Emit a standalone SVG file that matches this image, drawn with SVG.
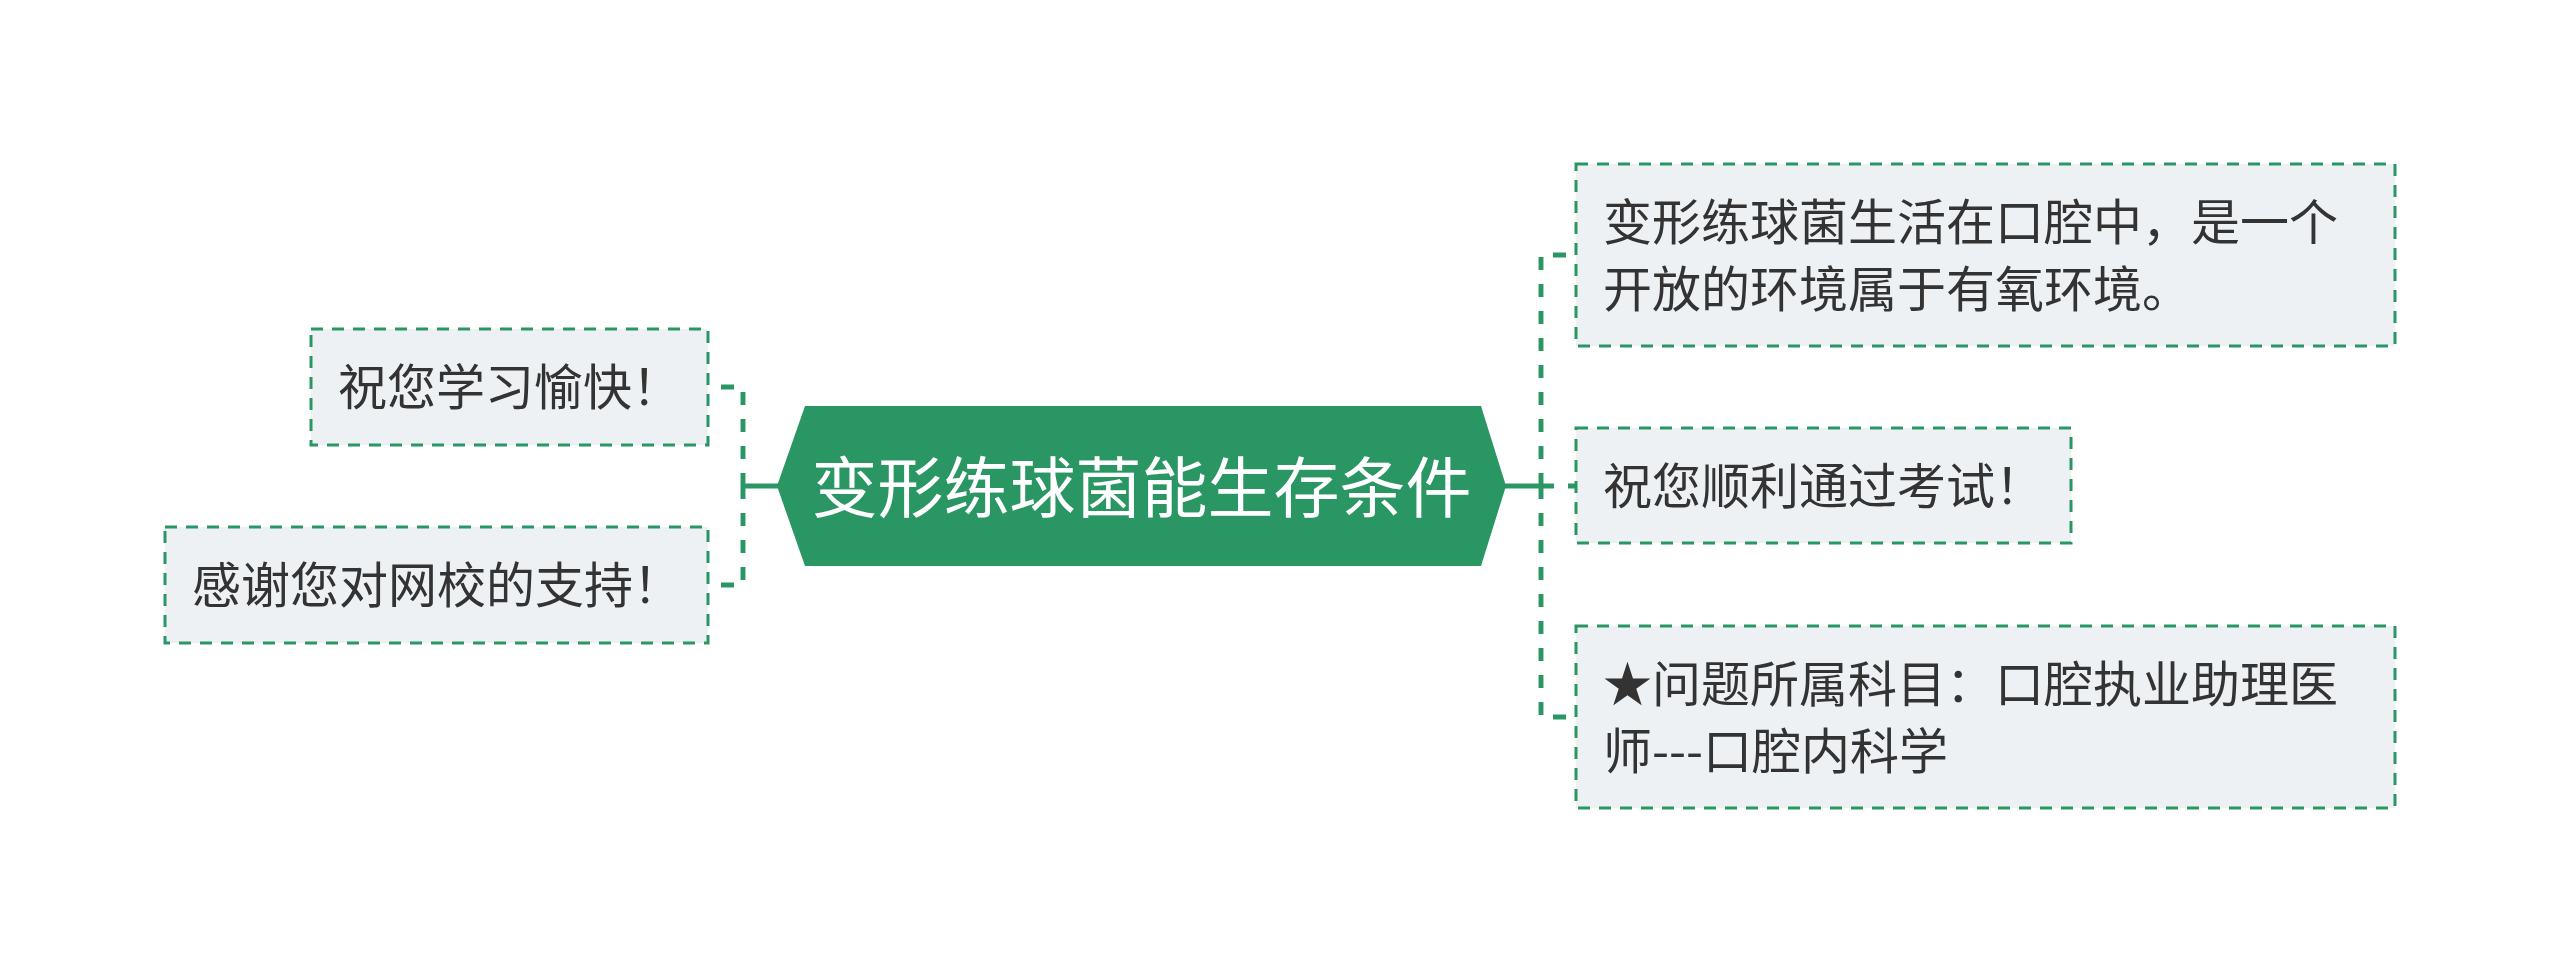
<svg xmlns="http://www.w3.org/2000/svg" width="2560" height="973" viewBox="0 0 2560 973">
<style>
.box{fill:#eef1f4;stroke:#2a9664;stroke-width:3;stroke-dasharray:12 9;}
.t{font-family:"Noto Sans CJK SC","Noto Sans",sans-serif;font-size:49px;fill:#333333;}
.ct{font-family:"Noto Sans CJK SC","Noto Sans",sans-serif;font-size:66px;fill:#ffffff;text-anchor:middle;}
.c{fill:none;stroke:#2a9664;stroke-width:4.9;}
.d{stroke-dasharray:13 14;}
</style>
<rect width="2560" height="973" fill="#ffffff"/>
<g id="connectors">
<line class="c" x1="743" y1="486" x2="780" y2="486"/>
<line class="c" x1="1503" y1="486" x2="1541" y2="486"/>
<path class="c d" d="M743,486 V387 H708"/>
<path class="c d" d="M743,486 V585 H708"/>
<path class="c d" d="M1541,486 V255 H1576"/>
<path class="c d" d="M1541,486 H1576"/>
<path class="c d" d="M1541,486 V717 H1576"/>
</g>
<g id="center">
<polygon points="777,486 805,406 1481,406 1506,486 1481,566 805,566" fill="#2a9664"/>
<text class="ct" x="1141.5" y="512">变形练球菌能生存条件</text>
</g>
<g id="node-left-1">
<rect class="box" x="311" y="329" width="397" height="116"/>
<text class="t" x="338" y="405">祝您学习愉快！</text>
</g>
<g id="node-left-2">
<rect class="box" x="165" y="527" width="543" height="116"/>
<text class="t" x="192" y="603">感谢您对网校的支持！</text>
</g>
<g id="node-right-1">
<rect class="box" x="1576" y="164" width="819" height="182"/>
<text class="t" x="1603" y="240">变形练球菌生活在口腔中，是一个</text>
<text class="t" x="1603" y="307">开放的环境属于有氧环境。</text>
</g>
<g id="node-right-2">
<rect class="box" x="1576" y="428" width="495" height="115"/>
<text class="t" x="1603" y="504">祝您顺利通过考试！</text>
</g>
<g id="node-right-3">
<rect class="box" x="1576" y="626" width="819" height="182"/>
<text class="t" x="1603" y="702">★问题所属科目：口腔执业助理医</text>
<text class="t" x="1603" y="769">师---口腔内科学</text>
</g>
</svg>
